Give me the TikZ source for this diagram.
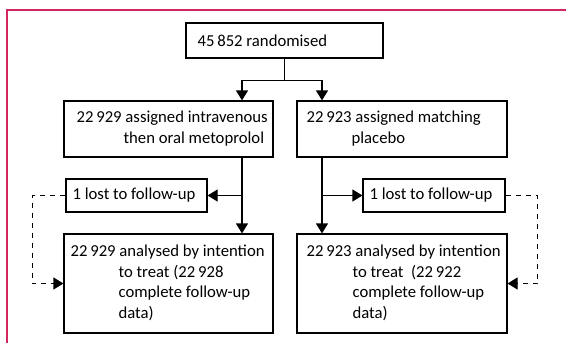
\documentclass[tikz,border=0pt]{standalone}
\usepackage{fontspec}
\setmainfont{Carlito}
\usetikzlibrary{arrows.meta,calc}
\definecolor{frame}{RGB}{210,38,92}
\newcommand{\txtline}[2]{\hbox{\kern#1pt\strut #2}}
\begin{document}
\begin{tikzpicture}[x=1pt,y=-1pt,
  box/.style={draw=black,line width=1.2pt,rectangle,inner sep=0pt},
  txt/.style={anchor=west,inner sep=0pt,font=\fontsize{16.7}{20.7}\selectfont},
  arr/.style={line width=1.2pt,-{Triangle[length=10pt,width=12pt]}},
  conn/.style={line width=1.2pt},
  dsh/.style={line width=1.2pt,dash pattern=on 5pt off 5pt,-{Triangle[length=10pt,width=12pt]}}]
\useasboundingbox (0,0) rectangle (566,343);
\draw[frame,line width=1.6pt] (566,10) -- (7,10) -- (7,343);
% boxes
\node[box,minimum width=197pt,minimum height=35pt] (top) at (284.5,40.5) {};
\node[txt] (topt) at ([xshift=12pt]top.west) {45\,852 randomised};
\node[box,minimum width=209pt,minimum height=56pt] (L2) at (168.5,129) {};
\node[txt] (L2t) at ([xshift=13pt]L2.west) {\vbox{\txtline{0}{22\,929 assigned intravenous}\txtline{47}{then oral metoprolol}}};
\node[box,minimum width=210pt,minimum height=56pt] (R2) at (402,129) {};
\node[txt] (R2t) at ([xshift=10pt]R2.west) {\vbox{\txtline{0}{22\,923 assigned matching}\txtline{45}{placebo}}};
\node[box,minimum width=141pt,minimum height=33pt] (Llost) at (136.5,195.5) {};
\node[txt] (Llostt) at ([xshift=7pt]Llost.west) {1 lost to follow-up};
\node[box,minimum width=142pt,minimum height=33pt] (Rlost) at (434,195.5) {};
\node[txt] (Rlostt) at ([xshift=7pt]Rlost.west) {1 lost to follow-up};
\node[box,minimum width=209pt,minimum height=99pt] (LA) at (168.5,283.5) {};
\node[txt] (LAt) at ([xshift=7pt]LA.west) {\vbox{\txtline{0}{22\,929 analysed by intention}\txtline{48}{to treat (22\,928}\txtline{48}{complete follow-up}\txtline{48}{data)}}};
\node[box,minimum width=210pt,minimum height=99pt] (RA) at (402,283.5) {};
\node[txt] (RAt) at ([xshift=10pt]RA.west) {\vbox{\txtline{0}{22\,923 analysed by intention}\txtline{46}{to treat\ \ (22\,922}\txtline{46}{complete follow-up}\txtline{46}{data)}}};
% connectors
\coordinate (lv) at (242,0);
\coordinate (rv) at (322,0);
\draw[conn] (top.south) -- ++(0,22) coordinate (split);
\draw[arr] (split) -| (L2.north -| lv);
\draw[arr] (split) -| (R2.north -| rv);
\draw[arr] (L2.south -| lv) -- (LA.north -| lv);
\draw[arr] (R2.south -| rv) -- (RA.north -| rv);
\draw[arr] (Llost.east -| lv) -- (Llost.east);
\draw[arr] (Rlost.west -| rv) -- (Rlost.west);
\draw[dsh] (Llost.west) -- ++(-33,0) |- (LA.west);
\draw[dsh] (Rlost.east) -- ++(32,0) |- (RA.east);
\end{tikzpicture}
\end{document}
